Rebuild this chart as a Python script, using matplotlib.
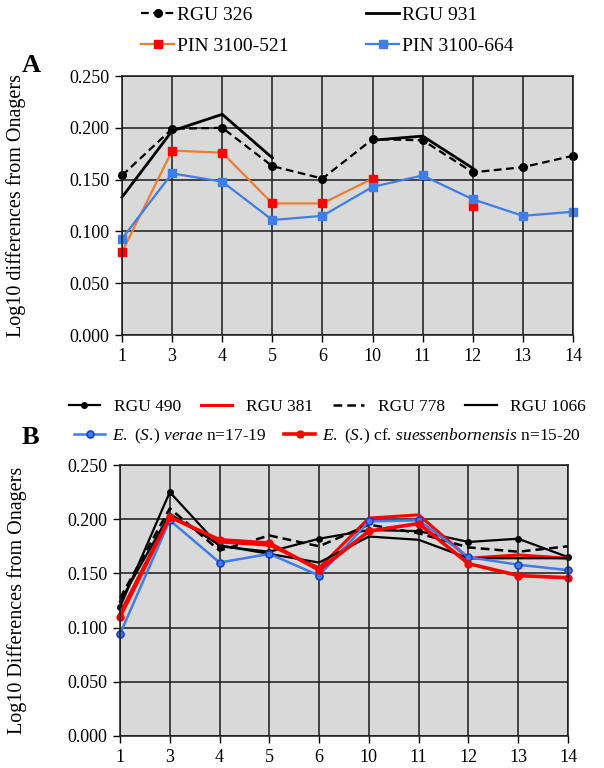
import matplotlib
matplotlib.use('Agg')
import matplotlib.pyplot as plt
import numpy as np

plt.rcParams['font.family'] = ['Liberation Serif', 'DejaVu Serif']
plt.rcParams['mathtext.fontset'] = 'custom'
plt.rcParams['mathtext.rm'] = 'Liberation Serif'
plt.rcParams['mathtext.it'] = 'Liberation Serif:italic'

teeth = ['1', '3', '4', '5', '6', '10', '11', '12', '13', '14']
nan = np.nan

# Panel A
rgu_326 = [0.154, 0.199, 0.200, 0.163, 0.151, 0.189, 0.188, 0.157, 0.162, 0.173]
rgu_931 = [0.133, 0.197, 0.213, 0.171, nan, 0.188, 0.192, 0.161, nan, nan]
pin_521 = [0.080, 0.178, 0.176, 0.127, 0.127, 0.151, nan, 0.125, nan, nan]
pin_664 = [0.093, 0.156, 0.148, 0.111, 0.115, 0.143, 0.154, 0.131, 0.115, 0.119]

# Panel B
rgu_490 = [0.119, 0.225, 0.175, 0.170, 0.182, 0.190, 0.189, 0.179, 0.182, 0.165]
rgu_381 = [0.113, 0.203, 0.179, 0.176, 0.155, 0.201, 0.204, 0.164, 0.167, 0.164]
rgu_778 = [0.127, 0.210, 0.171, 0.185, 0.175, 0.195, 0.187, 0.174, 0.170, 0.175]
rgu_1066 = [0.124, 0.205, 0.176, 0.168, 0.160, 0.184, 0.181, 0.164, 0.164, 0.164]
verae = [0.094, 0.199, 0.160, 0.168, 0.148, 0.198, 0.199, 0.165, 0.158, 0.153]
suess = [0.110, 0.202, 0.181, 0.178, 0.153, 0.189, 0.196, 0.159, 0.148, 0.146]

x = np.arange(len(teeth))
blue = '#3f7de8'


def style_axes(ax):
    ax.set_facecolor('#d9d9d9')
    ax.set_xlim(0, len(teeth) - 1)
    ax.set_ylim(0, 0.25)
    ax.set_yticks(np.arange(0, 0.2501, 0.05))
    ax.set_yticklabels(['%.3f' % v for v in np.arange(0, 0.2501, 0.05)])
    ax.set_xticks(x)
    ax.set_xticklabels(teeth)
    ax.grid(True, color='#1a1a1a', linewidth=1.1)
    ax.set_axisbelow(True)
    for s in ax.spines.values():
        s.set_color('#1a1a1a')
        s.set_linewidth(1.1)
    ax.tick_params(labelsize=13, length=5, width=1, direction='out', pad=4)


fig = plt.figure(figsize=(6.04, 7.68), dpi=100)

# ---- A ----
axA = fig.add_axes([122 / 604, 1 - 335 / 768, 451 / 604, 259 / 768])
style_axes(axA)
a1, = axA.plot(x, rgu_326, color='black', linestyle=(0, (3.5, 2)), linewidth=1.6,
               marker='o', markersize=5.5, label='RGU 326', clip_on=False)
a2, = axA.plot(x, rgu_931, color='black', linewidth=2, label='RGU 931', clip_on=False)
a3, = axA.plot(x, pin_521, color='#ed7d31', linewidth=1.6, marker='s', markersize=5.5,
               markerfacecolor='red', markeredgecolor='red', label='PIN 3100-521',
               clip_on=False)
a4, = axA.plot(x, pin_664, color=blue, linewidth=1.6, marker='s', markersize=5.5,
               label='PIN 3100-664', clip_on=False)
axA.set_ylabel('Log10 differences from Onagers', fontsize=14.5)
axA.yaxis.set_label_coords(-0.212, 0.5)
axA.legend(handles=[a1, a3, a2, a4], loc='lower left', bbox_to_anchor=(0.025, 1.05),
           ncol=2, frameon=False, fontsize=14, handlelength=1.7, handletextpad=0.15,
           columnspacing=4.0, labelspacing=0.7, borderaxespad=0)
fig.text(22 / 604, 1 - 66 / 768, 'A', fontsize=19, fontweight='bold', va='center')

# ---- B ----
axB = fig.add_axes([120 / 604, 1 - 736 / 768, 448 / 604, 271 / 768])
style_axes(axB)
l1, = axB.plot(x, rgu_490, color='black', linewidth=1.6, marker='o', markersize=4,
               label='RGU 490', clip_on=False)
l2, = axB.plot(x, rgu_381, color='red', linewidth=2.2, label='RGU 381', clip_on=False)
l3, = axB.plot(x, rgu_778, color='black', linestyle=(0, (3.5, 2)), linewidth=1.8,
               label='RGU 778', clip_on=False)
l4, = axB.plot(x, rgu_1066, color='black', linewidth=1.6, label='RGU 1066', clip_on=False)
l5, = axB.plot(x, verae, color=blue, linewidth=1.8, marker='o', markersize=5,
               markeredgecolor='#1b3fd0', markeredgewidth=1.2, clip_on=False,
               label=r'$\mathit{E.}$ $\mathit{(S.\!)}$ $\mathit{verae}$ n=17-19')
l6, = axB.plot(x, suess, color='red', linewidth=2.6, marker='o', markersize=5,
               clip_on=False,
               label=r'$\mathit{E.}$ $\mathit{(S.\!)}$ cf. $\mathit{suessenbornensis}$ n=15-20')
axB.set_ylabel('Log10 Differences from Onagers', fontsize=14.5)
axB.yaxis.set_label_coords(-0.208, 0.5)
leg1 = axB.legend(handles=[l1, l2, l3, l4], loc='lower left',
                  bbox_to_anchor=(-0.13, 1.16), ncol=4, frameon=False,
                  fontsize=12.5, handlelength=1.8, handletextpad=0.8,
                  columnspacing=1.15, borderaxespad=0)
axB.add_artist(leg1)
axB.legend(handles=[l5, l6], loc='lower left', bbox_to_anchor=(-0.118, 1.045),
           ncol=2, frameon=False, fontsize=12.5, handlelength=1.8,
           handletextpad=0.4, columnspacing=1.0, borderaxespad=0)
fig.text(22 / 604, 1 - 437 / 768, 'B', fontsize=19, fontweight='bold', va='center')

plt.savefig('out.png', dpi=100)
